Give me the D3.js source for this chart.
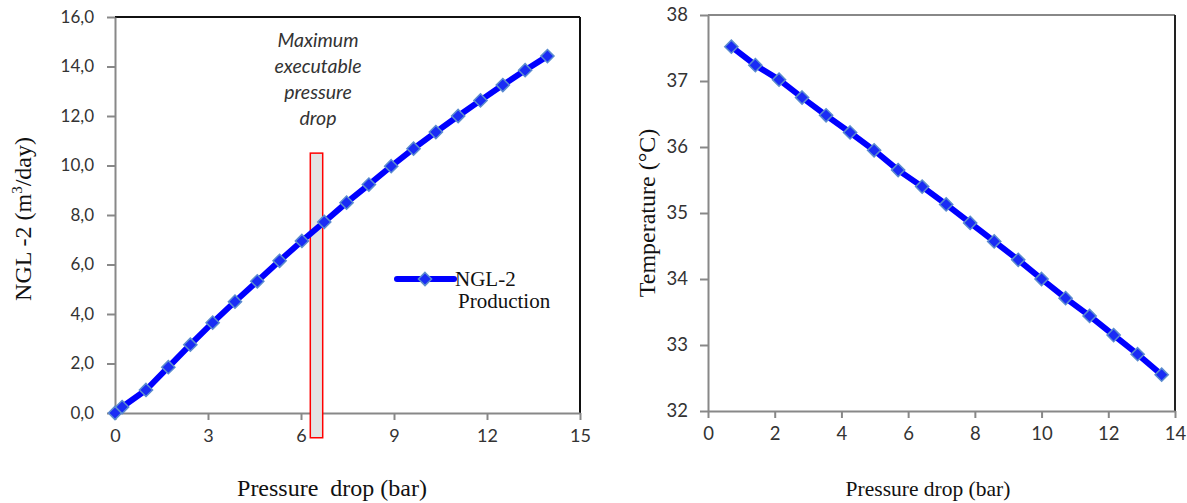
<!DOCTYPE html>
<html>
<head>
<meta charset="utf-8">
<script src="https://cdn.jsdelivr.net/npm/d3@7"></script>
<style>
  body { margin: 0; background: #fff; }
  .tick text { font-family: Lato, "Open Sans", sans-serif; fill: #333; }
  .lbl { font-family: "Liberation Serif", "Times New Roman", serif; font-size: 24px; fill: #111; }
</style>
</head>
<body>
<div id="chart-container"></div>
<script>
// left chart: NGL-2 production vs pressure drop
const nglDrop = [0, 0.23, 1.0, 1.72, 2.43, 3.15, 3.87, 4.59, 5.31, 6.03, 6.75, 7.47, 8.19, 8.91, 9.63, 10.35, 11.07, 11.79, 12.51, 13.23, 13.95];
const nglProd = [0, 0.24, 0.93, 1.85, 2.76, 3.65, 4.5, 5.32, 6.15, 6.95, 7.72, 8.5, 9.23, 9.97, 10.68, 11.35, 12.0, 12.63, 13.25, 13.85, 14.42];
const nglXTicks = [0, 3, 6, 9, 12, 15];
const nglYTicks = [0, 2, 4, 6, 8, 10, 12, 14, 16];
// highlighted "maximum executable pressure drop" band (data units)
const bandX = [6.3, 6.7];
const bandY = [-1.0, 10.5];
const noteLines = ["Maximum", "executable", "pressure", "drop"];

// right chart: temperature vs pressure drop
const tempDrop = [0.7, 1.42, 2.13, 2.82, 3.54, 4.26, 4.98, 5.7, 6.42, 7.14, 7.86, 8.58, 9.3, 10.0, 10.72, 11.44, 12.16, 12.88, 13.6];
const tempVal = [37.52, 37.24, 37.02, 36.75, 36.48, 36.22, 35.95, 35.65, 35.4, 35.13, 34.85, 34.57, 34.29, 34.0, 33.71, 33.44, 33.15, 32.86, 32.55];
const tempXTicks = [0, 2, 4, 6, 8, 10, 12, 14];
const tempYTicks = [32, 33, 34, 35, 36, 37, 38];

const W = 1187, H = 503;
const svg = d3.select("#chart-container").append("svg")
    .attr("width", W).attr("height", H);

const axisGray = "#888";
const diamond = d3.symbol().type(d3.symbolDiamond2 || d3.symbolDiamond).size(110);

function styleAxis(fontSize) {
    return g => {
        g.select(".domain").attr("stroke", axisGray).attr("stroke-width", 2);
        g.selectAll(".tick line").attr("stroke", axisGray).attr("stroke-width", 2);
        g.selectAll(".tick text").style("font-size", fontSize + "px");
    };
}

function drawPanel(opt) {
    const x = d3.scaleLinear().domain(opt.xDomain).range(opt.xRange);
    const y = d3.scaleLinear().domain(opt.yDomain).range(opt.yRange);
    const g = svg.append("g");

    // top and right frame
    g.append("line")
        .attr("x1", opt.xRange[0]).attr("x2", opt.xRange[1])
        .attr("y1", opt.yRange[1]).attr("y2", opt.yRange[1])
        .attr("stroke", opt.topColor).attr("stroke-width", 2);
    g.append("line")
        .attr("x1", opt.xRange[1]).attr("x2", opt.xRange[1])
        .attr("y1", opt.yRange[1]).attr("y2", opt.yRange[0])
        .attr("stroke", opt.rightColor).attr("stroke-width", 2);

    g.append("g")
        .attr("transform", `translate(0, ${opt.yRange[0]})`)
        .call(d3.axisBottom(x).tickValues(opt.xTicks).tickSize(7).tickPadding(9).tickSizeOuter(0))
        .call(styleAxis(opt.xFont));

    g.append("g")
        .attr("transform", `translate(${opt.xRange[0]}, 0)`)
        .call(d3.axisLeft(y).tickValues(opt.yTicks).tickSize(8).tickPadding(opt.yPad).tickSizeOuter(0).tickFormat(opt.yFormat))
        .call(styleAxis(opt.yFont));

    if (opt.before) opt.before(g, x, y);

    const pts = opt.xs.map((v, i) => [v, opt.ys[i]]);
    g.append("path")
        .datum(pts)
        .attr("fill", "none")
        .attr("stroke", "#0000ff")
        .attr("stroke-width", 6)
        .attr("stroke-linejoin", "round")
        .attr("stroke-linecap", "round")
        .attr("d", d3.line().x(d => x(d[0])).y(d => y(d[1])));

    g.selectAll(".pt")
        .data(pts)
        .enter().append("path")
        .attr("class", "pt")
        .attr("transform", d => `translate(${x(d[0])}, ${y(d[1])})`)
        .attr("d", diamond)
        .attr("fill", "#1a2cf5")
        .attr("stroke", "#5b8ccf")
        .attr("stroke-width", 1.5);

    // axis titles
    g.append("text")
        .attr("class", "lbl")
        .attr("text-anchor", "middle")
        .attr("x", opt.xLabelPos[0]).attr("y", opt.xLabelPos[1])
        .attr("xml:space", "preserve")
        .style("font-size", opt.xLabelSize + "px")
        .text(opt.xLabel);
    g.append("text")
        .attr("class", "lbl")
        .attr("text-anchor", "middle")
        .attr("transform", `translate(${opt.yLabelPos[0]}, ${opt.yLabelPos[1]}) rotate(-90)`)
        .html(opt.yLabel);
    return g;
}

// left panel
const left = drawPanel({
    xs: nglDrop, ys: nglProd,
    xDomain: [0, 15], yDomain: [0, 16],
    xRange: [115, 580], yRange: [413, 17],
    xTicks: nglXTicks, yTicks: nglYTicks,
    xFont: 18, yFont: 17, yPad: 13,
    yFormat: d => d.toFixed(1).replace(".", ","),
    topColor: "#111", rightColor: "#111",
    xLabel: "Pressure  drop (bar)", xLabelPos: [332, 496], xLabelSize: 24,
    yLabel: "NGL -2 (m<tspan dy='-9' font-size='15'>3</tspan><tspan dy='9'>/day)</tspan>",
    yLabelPos: [31, 219],
    before: (g, x, y) => {
        g.append("rect")
            .attr("x", x(bandX[0])).attr("width", x(bandX[1]) - x(bandX[0]))
            .attr("y", y(bandY[1])).attr("height", y(bandY[0]) - y(bandY[1]))
            .attr("fill", "#e3e3e3")
            .attr("stroke", "#ff0000")
            .attr("stroke-width", 1.5);
        g.append("text")
            .attr("font-family", "Lato, 'Open Sans', sans-serif")
            .attr("font-style", "italic")
            .attr("font-size", 19.5)
            .attr("fill", "#333")
            .attr("text-anchor", "middle")
            .selectAll("tspan")
            .data(noteLines)
            .enter().append("tspan")
            .attr("x", 318)
            .attr("y", (d, i) => 47 + i * 26)
            .text(d => d);
    }
});

// legend
const leg = left.append("g").attr("transform", "translate(397, 279)");
leg.append("line").attr("x1", 0).attr("x2", 57)
    .attr("stroke", "#0000ff").attr("stroke-width", 6).attr("stroke-linecap", "round");
leg.append("path").attr("transform", "translate(28, 0)").attr("d", diamond)
    .attr("fill", "#1a2cf5").attr("stroke", "#5b8ccf").attr("stroke-width", 1.5);
leg.append("text").attr("class", "lbl").style("font-size", "21px")
    .attr("x", 58).attr("y", 7).text("NGL-2");
leg.append("text").attr("class", "lbl").style("font-size", "21px")
    .attr("x", 61).attr("y", 29).text("Production");

// right panel
drawPanel({
    xs: tempDrop, ys: tempVal,
    xDomain: [0, 14], yDomain: [32, 38],
    xRange: [708, 1175], yRange: [411, 15],
    xTicks: tempXTicks, yTicks: tempYTicks,
    xFont: 18.5, yFont: 18.5, yPad: 12,
    yFormat: d3.format("d"),
    topColor: axisGray, rightColor: "#222",
    xLabel: "Pressure drop (bar)", xLabelPos: [928, 496], xLabelSize: 21.5,
    yLabel: "Temperature (°C)",
    yLabelPos: [655, 213]
});
</script>
</body>
</html>
